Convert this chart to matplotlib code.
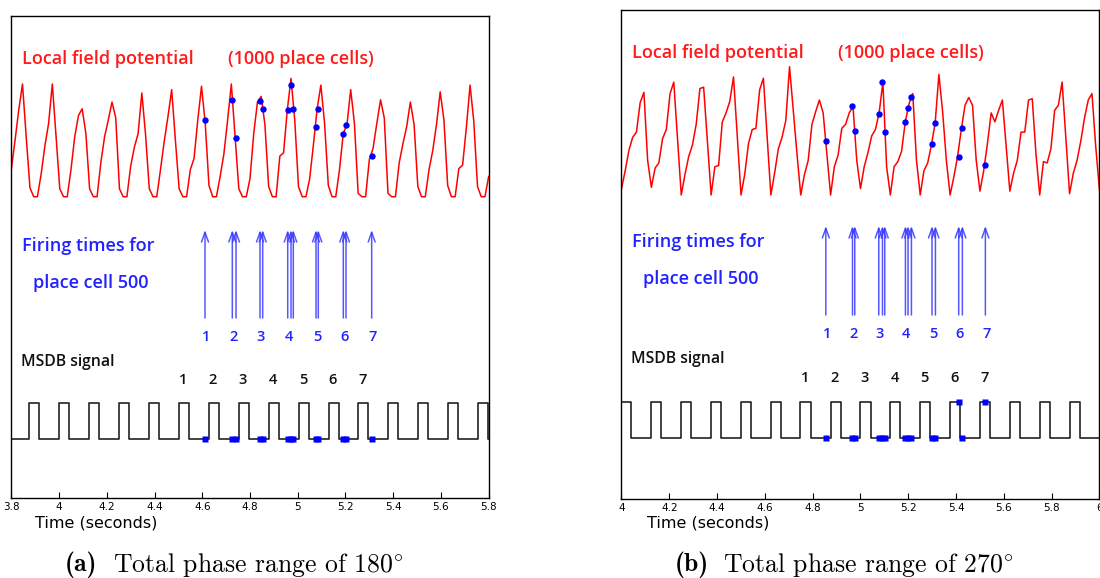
import numpy as np
import matplotlib.pyplot as plt

plt.rcParams['mathtext.fontset'] = 'cm'

# LFP is sampled every 1/64 s, values normalised (trough 0, peak 1)
dt = 1 / 64
pulse_width = 0.042   # MSDB pulse length (s)

# ---------- panel (a): total phase range 180 deg ----------
lfp_a_start = 3.8
lfp_a = [0.24, 0.50, 0.77,
         1.00, 0.53, 0.08, 0, 0, 0.20, 0.45, 0.65,
         1.00, 0.53, 0.07, 0, 0, 0.24, 0.53, 0.72,
         0.78, 0.56, 0.07, 0, 0, 0.30, 0.53, 0.68,
         0.84, 0.70, 0.07, 0, 0, 0.27, 0.44, 0.56,
         0.92, 0.55, 0.07, 0, 0, 0.24, 0.49, 0.71,
         0.95, 0.50, 0.07, 0, 0, 0.24, 0.34, 0.68,
         0.98, 0.65, 0.10, 0, 0, 0.18, 0.38, 0.68,
         1.00, 0.53, 0.07, 0, 0, 0.16, 0.56, 0.84,
         0.89, 0.64, 0.09, 0, 0, 0.36, 0.39, 0.77,
         1.05, 0.68, 0.09, 0, 0, 0.16, 0.46, 0.78,
         0.99, 0.65, 0.10, 0, 0, 0.24, 0.56, 0.64,
         0.95, 0.65, 0.03, 0, 0, 0.33, 0.43, 0.65,
         0.86, 0.70, 0.03, 0, 0, 0.30, 0.47, 0.62,
         0.84, 0.64, 0.09, 0, 0, 0.24, 0.41, 0.64,
         0.93, 0.68, 0.10, 0, 0, 0.25, 0.28, 0.61,
         0.99, 0.67, 0.09, 0, 0, 0.18]
spikes_a = [4.6115, 4.7259, 4.7414, 4.8419, 4.8532, 4.9580, 4.9718,
            4.9814, 5.0765, 5.0861, 5.1909, 5.2022, 5.3098]
spikes_a_lfp = [0.68, 0.86, 0.52, 0.85, 0.78, 0.77, 0.99,
                0.78, 0.62, 0.78, 0.56, 0.64, 0.36]
spikes_a_cycle = [1, 2, 2, 3, 3, 4, 4, 4, 5, 5, 6, 6, 7]
msdb_a_onsets = [3.875, 4.000, 4.126, 4.251, 4.377, 4.502, 4.627, 4.753,
                 4.878, 5.004, 5.129, 5.254, 5.380, 5.505, 5.631, 5.756]
msdb_a_numbered = [5, 6, 7, 8, 9, 10, 11]   # which pulses get labels 1..7

# ---------- panel (b): total phase range 270 deg ----------
lfp_b_start = 4.0
lfp_b = [0.05, 0.19, 0.35, 0.45, 0.49, 0.72, 0.80, 0.27,
         0.06, 0.21, 0.25, 0.44, 0.51, 0.79, 0.88, 0.44,
         0.00, 0.16, 0.30, 0.39, 0.55, 0.83, 0.84, 0.42,
         0.00, 0.22, 0.23, 0.57, 0.64, 0.73, 0.92, 0.46,
         0.00, 0.16, 0.40, 0.51, 0.52, 0.82, 0.91, 0.45,
         0.00, 0.17, 0.36, 0.45, 0.58, 1.00, 0.66, 0.32,
         0.00, 0.16, 0.27, 0.55, 0.65, 0.74, 0.64, 0.32,
         0.00, 0.22, 0.31, 0.52, 0.55, 0.64, 0.69, 0.27,
         0.05, 0.22, 0.33, 0.46, 0.51, 0.64, 0.88, 0.22,
         0.00, 0.22, 0.26, 0.34, 0.57, 0.71, 0.79, 0.27,
         0.00, 0.19, 0.25, 0.39, 0.56, 0.94, 0.65, 0.27,
         0.00, 0.14, 0.30, 0.51, 0.70, 0.76, 0.70, 0.27,
         0.03, 0.19, 0.40, 0.64, 0.57, 0.66, 0.74, 0.38,
         0.03, 0.17, 0.27, 0.49, 0.49, 0.74, 0.75, 0.32,
         0.00, 0.26, 0.25, 0.36, 0.66, 0.70, 0.88, 0.45,
         0.01, 0.17, 0.27, 0.42, 0.60, 0.74, 0.79, 0.38,
         0.04]
spikes_b = [4.8550, 4.9666, 4.9762, 5.0765, 5.0920, 5.1016, 5.1881,
            5.1990, 5.2132, 5.2993, 5.3136, 5.4110, 5.4264, 5.5226]
spikes_b_lfp = [0.42, 0.69, 0.50, 0.63, 0.88, 0.49, 0.57,
                0.68, 0.76, 0.40, 0.56, 0.30, 0.52, 0.23]
spikes_b_cycle = [1, 2, 2, 3, 3, 3, 4, 4, 4, 5, 5, 6, 6, 7]
msdb_b_onsets = [3.997, 4.122, 4.248, 4.373, 4.499, 4.624, 4.749, 4.875,
                 5.000, 5.125, 5.251, 5.376, 5.502, 5.627, 5.752, 5.878]
msdb_b_numbered = [6, 7, 8, 9, 10, 11, 12]

RED = '#ff1a1a'
BLUE = '#2222ff'
txt_font = ['Open Sans', 'DejaVu Sans']


def draw_panel(ax, xlim, ticks, height, lfp, lfp_start, spikes, spikes_lfp,
               cycles, onsets, numbered, lay):
    # lay holds the vertical layout of the panel (in pixels from the bottom)
    t = lfp_start + dt * np.arange(len(lfp))
    ax.plot(t, lay['lfp0'] + lay['lfp_amp'] * np.array(lfp), color='red', lw=1.1)
    ax.plot(spikes, lay['lfp0'] + lay['lfp_amp'] * np.array(spikes_lfp), 'o',
            color='blue', ms=4.6, mec='none', zorder=3)

    # firing time arrows
    for s in spikes:
        ax.annotate('', xy=(s, lay['arr_top']), xytext=(s, lay['arr_bot']),
                    arrowprops=dict(arrowstyle='->,head_length=0.7,head_width=0.25',
                                    color='#3a3aff', lw=1.1, alpha=0.85,
                                    shrinkA=0, shrinkB=0))
    for c in sorted(set(cycles)):
        first = min(s for s, k in zip(spikes, cycles) if k == c)
        ax.text(first + 0.004, lay['arr_num'], str(c), color=BLUE, ha='center',
                va='center', fontsize=10.5, family=txt_font, fontweight='semibold')

    # MSDB square wave
    xs, ys = [xlim[0] - 0.1], [0]
    for on in onsets:
        xs += [on, on, on + pulse_width, on + pulse_width]
        ys += [0, 1, 1, 0]
    xs.append(xlim[1] + 0.1)
    ys.append(0)
    lo, hi = lay['msdb_lo'], lay['msdb_hi']
    ax.plot(xs, lo + (hi - lo) * np.array(ys), color='#222222', lw=1.2)
    state = [1 if any(on <= s < on + pulse_width for on in onsets) else 0 for s in spikes]
    ax.plot(spikes, lo + (hi - lo) * np.array(state), 's', color='blue', ms=4.2,
            mec='none', zorder=3)
    for i, k in enumerate(numbered):
        ax.text(onsets[k], lay['msdb_num'], str(i + 1), color='#111111', ha='left',
                va='center', fontsize=10.5, family=txt_font, fontweight='semibold')

    # labels
    x0 = lay['text_x']
    ax.text(x0, lay['lfp_txt'], 'Local field potential', color=RED, fontsize=13,
            family=txt_font, fontweight='semibold', va='center')
    ax.text(lay['cells_x'], lay['lfp_txt'], '(1000 place cells)', color=RED,
            fontsize=13, family=txt_font, fontweight='semibold', va='center')
    ax.text(x0, lay['fire_txt'], 'Firing times for', color=BLUE, fontsize=13,
            family=txt_font, fontweight='semibold', va='center')
    ax.text(x0 + 0.046, lay['fire_txt'] - 37, 'place cell 500', color=BLUE,
            fontsize=13, family=txt_font, fontweight='semibold', va='center')
    ax.text(x0 - 0.004, lay['msdb_txt'], 'MSDB signal', color='#111111',
            fontsize=11.3, family=txt_font, fontweight='semibold', va='center')

    ax.set_xlim(xlim)
    ax.set_ylim(0, height)
    ax.set_yticks([])
    ax.set_xticks(ticks)
    ax.set_xticklabels(['%g' % v for v in ticks])
    ax.tick_params(axis='x', direction='in', length=4, labelsize=7.5, pad=3)
    for sp in ax.spines.values():
        sp.set_linewidth(1.0)


fig = plt.figure(figsize=(11, 5.78), dpi=100)

ax_a = fig.add_axes([0.01027, 0.1384, 0.4340, 0.8339])
draw_panel(ax_a, (3.8, 5.8), np.arange(3.8, 5.81, 0.2).round(1), 482,
           lfp_a, lfp_a_start, spikes_a, spikes_a_lfp, spikes_a_cycle,
           msdb_a_onsets, msdb_a_numbered,
           dict(lfp0=301.3, lfp_amp=112.7, arr_bot=180, arr_top=268, arr_num=161,
                msdb_lo=58.7, msdb_hi=95.3, msdb_num=118, text_x=3.845,
                cells_x=4.7087, lfp_txt=439, fire_txt=252, msdb_txt=136))

ax_b = fig.add_axes([0.5650, 0.1367, 0.4345, 0.8460])
draw_panel(ax_b, (4.0, 6.0), np.arange(4.0, 6.01, 0.2).round(1), 489,
           lfp_b, lfp_b_start, spikes_b, spikes_b_lfp, spikes_b_cycle,
           msdb_b_onsets, msdb_b_numbered,
           dict(lfp0=304, lfp_amp=128.3, arr_bot=184, arr_top=273, arr_num=165,
                msdb_lo=61.3, msdb_hi=97.3, msdb_num=121, text_x=4.044,
                cells_x=4.905, lfp_txt=446, fire_txt=257, msdb_txt=140))

fig.text(35 / 1100, 1 - 523 / 578, 'Time (seconds)', fontsize=11.5, va='center')
fig.text(647 / 1100, 1 - 523 / 578, 'Time (seconds)', fontsize=11.5, va='center')

# captions in Computer Modern: bold label, roman text
cap_y = 1 - 565 / 578
for lab, txt, x_lab, x_txt in [('(a)', 'Total phase range of 180$^{\\circ}$', 65, 113),
                               ('(b)', 'Total phase range of 270$^{\\circ}$', 675, 723)]:
    fig.text(x_lab / 1100, cap_y, lab, family='cmb10', fontsize=18.5, va='center')
    fig.text(x_txt / 1100, cap_y, txt, family='cmr10', fontsize=18.5, va='center')

fig.savefig('out.png', dpi=100)
